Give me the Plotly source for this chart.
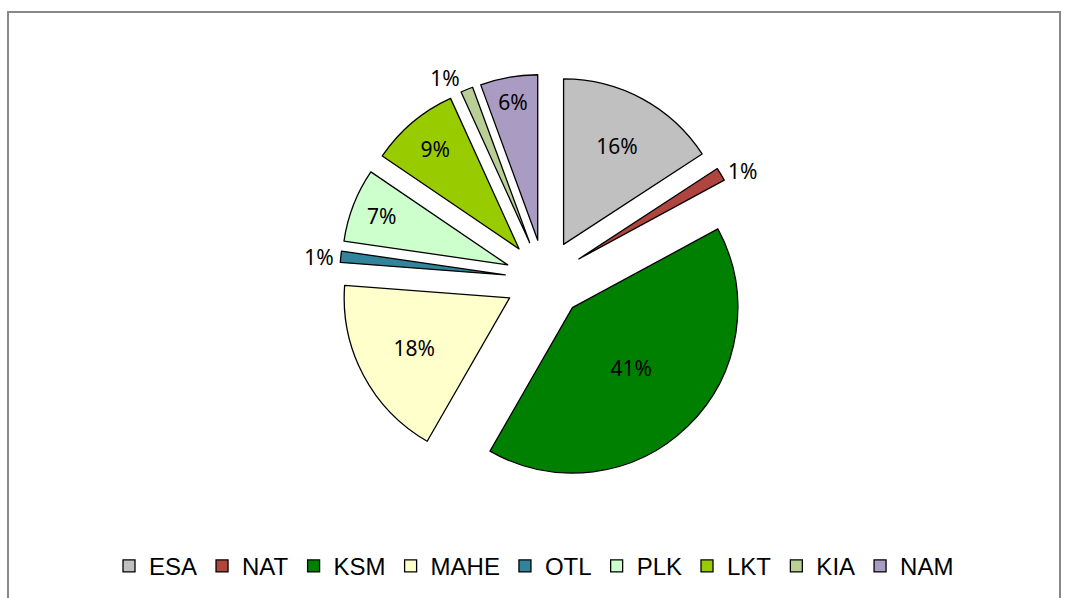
import plotly.graph_objects as go

labels = ["ESA", "NAT", "KSM", "MAHE", "OTL", "PLK", "LKT", "KIA", "NAM"]
values = [15.8, 1.3, 41.2, 17.9, 1.1, 7.2, 8.7, 1.2, 5.6]
colors = ["#C0C0C0", "#B0453F", "#008000", "#FFFFCC", "#31849B",
          "#CCFFCC", "#99CC00", "#B9CF96", "#A99BC1"]
textpos = ["inside", "outside", "inside", "inside", "outside",
           "inside", "inside", "outside", "inside"]

fig = go.Figure(go.Pie(
    labels=labels, values=values, sort=False, direction="clockwise", rotation=0,
    marker=dict(colors=colors, line=dict(color="black", width=1.3)),
    pull=[0.24] * len(labels),
    texttemplate="%{percent:.0%}", textposition=textpos,
    insidetextorientation="horizontal",
    textfont=dict(family="Noto Sans, sans-serif", size=21, color="black"),
    domain=dict(x=[0.2, 0.82], y=[0.19, 0.876]),
    hoverinfo="label+percent",
))

fig.update_layout(
    width=1068, height=598,
    margin=dict(l=0, r=0, t=0, b=0, pad=0, autoexpand=False),
    paper_bgcolor="white",
    showlegend=True,
    legend=dict(orientation="h", x=0.5, xanchor="center", y=0.053, yanchor="middle",
                font=dict(family="Liberation Sans, Arial, sans-serif", size=24, color="black"),
                traceorder="normal", itemwidth=30),
    shapes=[dict(type="rect", xref="paper", yref="paper",
                 x0=8 / 1068, x1=1060 / 1068, y0=-0.02, y1=1 - 12 / 598,
                 line=dict(color="#888888", width=2), fillcolor="rgba(0,0,0,0)")],
)

fig.write_html("out.html", config={"displayModeBar": False},
               post_script="document.body.style.margin='0';document.body.style.overflow='hidden';")
